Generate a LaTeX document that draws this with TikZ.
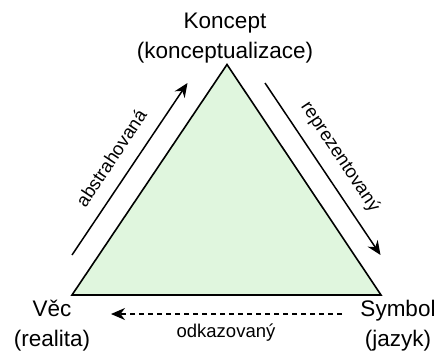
\documentclass[tikz,border=0pt]{standalone}
\usepackage{fontspec}
\setmainfont{Liberation Sans}
\usetikzlibrary{arrows.meta}
\definecolor{triFill}{RGB}{224,246,222}
\tikzset{
  vertexlabel/.style={font=\fontsize{22.5}{30}\selectfont, align=center, inner sep=0pt},
  edgelabel/.style={font=\fontsize{18.5}{22}\selectfont, inner sep=0pt},
  relation/.style={line width=1.5pt, -{Stealth[length=14pt, width=12pt, inset=4.5pt]}},
  reference/.style={relation, dash pattern=on 5.5pt off 3.5pt}
}
\begin{document}
\begin{tikzpicture}[x=1pt, y=-1pt]
  \useasboundingbox (0,0) rectangle (438,351);

  % triangle of meaning
  \coordinate (top) at (227,64.5);
  \coordinate (bl) at (72,295);
  \coordinate (br) at (381,295);
  \draw[fill=triFill, line width=1.6pt, line join=miter] (top) -- (bl) -- (br) -- cycle;

  % vertex labels
  \node[vertexlabel] (koncept) at (225,38) {Koncept\\(konceptualizace)};
  \node[vertexlabel] (vec) at (52,325.5) {Věc\\(realita)};
  \node[vertexlabel] (symbol) at (398,325.5) {Symbol\\(jazyk)};

  % relation arrows
  \coordinate (absStart) at (72,255);
  \coordinate (absEnd) at (187.5,83);
  \coordinate (repStart) at (265,83);
  \coordinate (repEnd) at (380.5,255);
  \coordinate (refStart) at (342,314);
  \coordinate (refEnd) at (111,314);

  \draw[relation] (absStart) -- (absEnd);
  \draw[relation] (repStart) -- (repEnd);
  \draw[reference] (refStart) -- (refEnd);

  % relation labels
  \node[edgelabel, rotate=56.4] (abs) at (111,158) {abstrahovaná};
  \node[edgelabel, rotate=-56.4] (rep) at (340,157) {reprezentovaný};
  \node[edgelabel] (ref) at (226,333) {odkazovaný};
\end{tikzpicture}
\end{document}
